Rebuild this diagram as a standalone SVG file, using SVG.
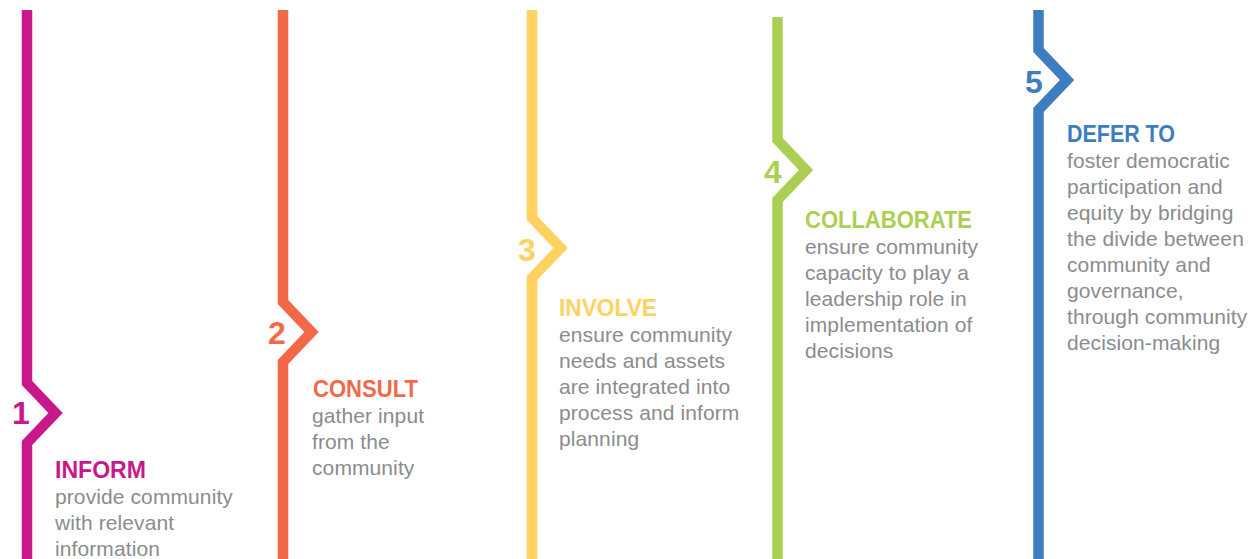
<svg xmlns="http://www.w3.org/2000/svg" width="1260" height="559" viewBox="0 0 1260 559">
<style>
.ln{fill:none;stroke-width:10.5;stroke-linejoin:miter;stroke-miterlimit:10}
.num{font-family:"Liberation Sans",Arial,sans-serif;font-weight:bold;font-size:32px;text-anchor:middle}
.hd{font-family:"Liberation Sans",Arial,sans-serif;font-weight:bold;font-size:24px}
.bd{font-family:"Liberation Sans",Arial,sans-serif;font-size:21px;fill:#8b8c8e;letter-spacing:0.1px}
.s1{stroke:#c8188c}.t1{fill:#c8188c}
.s2{stroke:#f26849}.t2{fill:#f26849}
.s3{stroke:#ffd262}.t3{fill:#ffd262}
.s4{stroke:#aacf52}.t4{fill:#aacf52}
.s5{stroke:#3e7dc0}.t5{fill:#3e7dc0}
</style>
<rect width="1260" height="559" fill="#ffffff"/>
<g id="step1">
<polyline class="ln s1" points="27,10 27,383 55.5,413 27,443 27,559"/>
<text class="num t1" x="21" y="424">1</text>
<text class="hd t1" x="55" y="478" textLength="91" lengthAdjust="spacingAndGlyphs">INFORM</text>
<text class="bd" x="55" y="504">provide community</text>
<text class="bd" x="55" y="530">with relevant</text>
<text class="bd" x="55" y="556">information</text>
</g>
<g id="step2">
<polyline class="ln s2" points="283,10 283,302 311.5,332 283,362 283,559"/>
<text class="num t2" x="277" y="344">2</text>
<text class="hd t2" x="313" y="397" textLength="105" lengthAdjust="spacingAndGlyphs">CONSULT</text>
<text class="bd" x="312" y="423">gather input</text>
<text class="bd" x="312" y="449">from the</text>
<text class="bd" x="312" y="475">community</text>
</g>
<g id="step3">
<polyline class="ln s3" points="532,10 532,218 560.5,248 532,278 532,559"/>
<text class="num t3" x="527" y="261">3</text>
<text class="hd t3" x="559" y="316" textLength="98" lengthAdjust="spacingAndGlyphs">INVOLVE</text>
<text class="bd" x="559" y="342">ensure community</text>
<text class="bd" x="559" y="368">needs and assets</text>
<text class="bd" x="559" y="394">are integrated into</text>
<text class="bd" x="559" y="420">process and inform</text>
<text class="bd" x="559" y="446">planning</text>
</g>
<g id="step4">
<polyline class="ln s4" points="777.5,17 777.5,140 806,170 777.5,200 777.5,559"/>
<text class="num t4" x="773" y="183">4</text>
<text class="hd t4" x="805" y="228" textLength="167" lengthAdjust="spacingAndGlyphs">COLLABORATE</text>
<text class="bd" x="805" y="254">ensure community</text>
<text class="bd" x="805" y="280">capacity to play a</text>
<text class="bd" x="805" y="306">leadership role in</text>
<text class="bd" x="805" y="332">implementation of</text>
<text class="bd" x="805" y="358">decisions</text>
</g>
<g id="step5">
<polyline class="ln s5" points="1038.5,10 1038.5,50 1067,80 1038.5,110 1038.5,559"/>
<text class="num t5" x="1034" y="93">5</text>
<text class="hd t5" x="1067" y="142" textLength="108" lengthAdjust="spacingAndGlyphs">DEFER TO</text>
<text class="bd" x="1067" y="168">foster democratic</text>
<text class="bd" x="1067" y="194">participation and</text>
<text class="bd" x="1067" y="220">equity by bridging</text>
<text class="bd" x="1067" y="246">the divide between</text>
<text class="bd" x="1067" y="272">community and</text>
<text class="bd" x="1067" y="298">governance,</text>
<text class="bd" x="1067" y="324">through community</text>
<text class="bd" x="1067" y="350">decision-making</text>
</g>
</svg>
